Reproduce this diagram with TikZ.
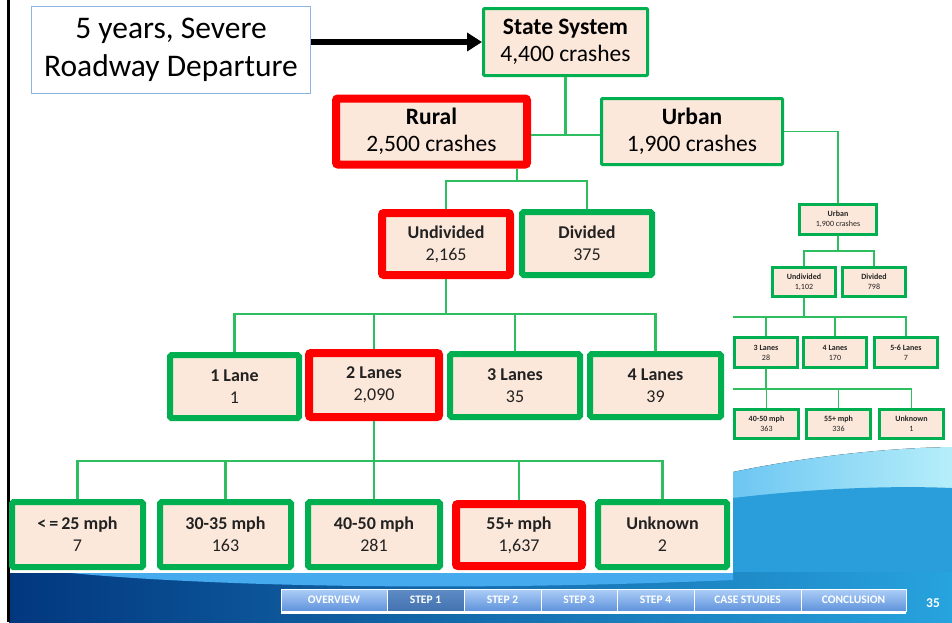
\documentclass[tikz,border=0pt]{standalone}
\usepackage{fontspec}
\setmainfont{Carlito}
\usetikzlibrary{arrows.meta}

\definecolor{boxgreen}{HTML}{00B050}
\definecolor{linegreen}{HTML}{2DBE5F}
\definecolor{hotred}{HTML}{FF0000}
\definecolor{peach}{HTML}{FCE8DA}
\definecolor{inkgray}{HTML}{222222}
\definecolor{noteblue}{HTML}{8EB4E3}
\definecolor{navy}{HTML}{02377E}
\definecolor{skyblue}{HTML}{27A3DE}
\definecolor{swoosh}{HTML}{45AAEE}
\definecolor{wavelight}{HTML}{6CC6F2}
\definecolor{wavepale}{HTML}{B6EEFA}
\definecolor{wavemid}{HTML}{2A9EDB}
\definecolor{navtop}{HTML}{ADCEF7}
\definecolor{navbot}{HTML}{5F93DC}
\definecolor{navseltop}{HTML}{5F8CC6}
\definecolor{navselbot}{HTML}{4272B0}

\tikzset{
  notebox/.style={draw=noteblue, line width=1pt, fill=white, align=center,
    inner sep=0pt, font=\fontsize{31.5}{38}\selectfont},
  topbox/.style={draw=boxgreen, line width=3pt, fill=peach, align=center,
    inner sep=0pt, rounded corners=1pt, font=\fontsize{23.5}{27}\selectfont},
  midbox/.style={draw=boxgreen, line width=6pt, fill=peach, align=center,
    inner sep=0pt, rounded corners=1.5pt, text=inkgray,
    font=\fontsize{18}{22}\selectfont},
  tinybox/.style={draw=boxgreen, line width=3pt, fill=peach, align=center,
    inner sep=0pt, text=inkgray, font=\fontsize{8}{10}\selectfont},
  hot/.style={draw=hotred, line width=8pt, rounded corners=2pt},
  conn/.style={draw=linegreen, line width=2.2pt},
  thinconn/.style={draw=linegreen, line width=1.5pt},
  navcell/.style={draw=white, line width=1pt, top color=navtop, bottom color=navbot,
    minimum height=22, inner sep=0pt, text=white,
    font=\fontsize{11.5}{13}\selectfont\bfseries},
  navsel/.style={top color=navseltop, bottom color=navselbot}
}

\begin{document}
\begin{tikzpicture}[x=1pt,y=-1pt]
\useasboundingbox (0,0) rectangle (952,622);
\fill[white] (0,0) rectangle (952,622);

% blue waves along the foot of the slide
\fill[left color=wavelight, right color=wavepale]
  (733,472) .. controls (800,458) and (880,448) .. (952,447) -- (952,622) -- (733,622) -- cycle;
\fill[wavemid]
  (733,498) .. controls (800,490) and (880,485) .. (952,488) -- (952,622) -- (733,622) -- cycle;
\fill[left color=navy, right color=skyblue] (9,572) rectangle (952,622);
\fill[swoosh] (60,572) .. controls (200,586) and (450,592) .. (733,580) -- (733,572) -- cycle;

% left rule
\draw[line width=3pt] (8.5,0) -- (8.5,622);

% caption and root
\node[notebox, minimum width=279, minimum height=87] (yrs) at (171,50)
  {5 years, Severe\\Roadway Departure};
\node[topbox, minimum width=164, minimum height=67] (state) at (565.5,42)
  {\textbf{State System}\\4,400 crashes};
\draw[line width=6pt, -{Triangle[length=15pt,width=18pt]}]
  (yrs.east |- state.west) -- (state.west);

% first split
\node[topbox, hot, minimum width=191, minimum height=66] (rural) at (431.5,131.5)
  {\textbf{Rural}\\2,500 crashes};
\node[topbox, minimum width=181, minimum height=66] (urban) at (692,131.5)
  {\textbf{Urban}\\1,900 crashes};

% rural branch
\node[midbox, hot, minimum width=128, minimum height=62] (undiv) at (446,244)
  {\textbf{Undivided}\\2,165};
\node[midbox, minimum width=130, minimum height=63] (div) at (587,243.5)
  {\textbf{Divided}\\375};

\node[midbox, minimum width=129, minimum height=63] (l1) at (234.5,386.5)
  {\textbf{1 Lane}\\1};
\node[midbox, hot, minimum width=130, minimum height=64] (l2) at (374,385)
  {\textbf{2 Lanes}\\2,090};
\node[midbox, minimum width=130, minimum height=63] (l3) at (515,385.5)
  {\textbf{3 Lanes}\\35};
\node[midbox, minimum width=131, minimum height=63] (l4) at (655.5,385.5)
  {\textbf{4 Lanes}\\39};

\fill[white] (10,455) rectangle (733,573);
\node[midbox, minimum width=131, minimum height=65] (m1) at (77.5,534.5)
  {\textbf{<\,=\,25 mph}\\7};
\node[midbox, minimum width=131, minimum height=65] (m2) at (225.5,534.5)
  {\textbf{30-35 mph}\\163};
\node[midbox, minimum width=132, minimum height=65] (m3) at (374,534.5)
  {\textbf{40-50 mph}\\281};
\node[midbox, hot, minimum width=126, minimum height=62] (m4) at (519,535)
  {\textbf{55+ mph}\\1,637};
\node[midbox, minimum width=129, minimum height=65] (m5) at (662.5,534.5)
  {\textbf{Unknown}\\2};

% urban branch, small scale
\node[tinybox, minimum width=77, minimum height=30] (surban) at (838,219.5)
  {\textbf{Urban}\\1,900 crashes};
\node[tinybox, minimum width=63, minimum height=29] (sundiv) at (804,282)
  {\textbf{Undivided}\\1,102};
\node[tinybox, minimum width=63, minimum height=29] (sdiv) at (874,282)
  {\textbf{Divided}\\798};
\node[tinybox, minimum width=63, minimum height=30] (s3) at (766,352.5)
  {\textbf{3 Lanes}\\28};
\node[tinybox, minimum width=63, minimum height=30] (s4) at (835,352.5)
  {\textbf{4 Lanes}\\170};
\node[tinybox, minimum width=63, minimum height=30] (s56) at (906,352.5)
  {\textbf{5-6 Lanes}\\7};
\node[tinybox, minimum width=64, minimum height=29] (s4050) at (766.5,424)
  {\textbf{40-50 mph}\\363};
\node[tinybox, minimum width=64, minimum height=29] (s55) at (838.5,424)
  {\textbf{55+ mph}\\336};
\node[tinybox, minimum width=64, minimum height=29] (sunk) at (911.5,424)
  {\textbf{Unknown}\\1};

% connectors
\draw[conn] (state.south) -- ++(0,58) coordinate (j0);
\draw[conn] (j0) -- (j0 -| rural.east);
\draw[conn] (j0) -- (j0 -| urban.west);
\draw[thinconn] (urban.east) -| (surban.north);

\coordinate (j1) at (517,181);
\draw[conn] (j1 |- rural.south) -- (j1);
\draw[conn] (j1) -| (undiv.north);
\draw[conn] (j1) -| (div.north);

\draw[conn] (undiv.south) -- ++(0,35) coordinate (j2);
\foreach \t in {l1,l2,l3,l4} \draw[conn] (j2) -| (\t.north);

\draw[conn] (l2.south) -- ++(0,40) coordinate (j3);
\foreach \t in {m1,m2,m3,m4,m5} \draw[conn] (j3) -| (\t.north);

\draw[thinconn] (surban.south) -- ++(0,15) coordinate (k1);
\draw[thinconn] (k1) -| (sundiv.north);
\draw[thinconn] (k1) -| (sdiv.north);

\draw[thinconn] (sundiv.south) -- ++(0,19) coordinate (k2);
\coordinate (k2end) at (733,317);
\draw[thinconn] (k2) -- (k2end);
\foreach \t in {s3,s4,s56} \draw[thinconn] (k2) -| (\t.north);

\draw[thinconn] (s3.south) -- ++(0,20) coordinate (k3);
\coordinate (k3end) at (733,389);
\draw[thinconn] (k3) -- (k3end);
\foreach \t in {s4050,s55,sunk} \draw[thinconn] (k3) -| (\t.north);

% navigation bar
\fill[white] (281,610) rectangle (906,614);
\node[navcell, minimum width=106] (nov) at (334,600) {OVERVIEW};
\node[navcell, navsel, minimum width=77] (ns1) at (425.5,600) {STEP 1};
\node[navcell, minimum width=77] (ns2) at (502.5,600) {STEP 2};
\node[navcell, minimum width=76] (ns3) at (579,600) {STEP 3};
\node[navcell, minimum width=77] (ns4) at (655.5,600) {STEP 4};
\node[navcell, minimum width=107] (ncs) at (747.5,600) {CASE STUDIES};
\node[navcell, minimum width=105] (ncl) at (853.5,600) {CONCLUSION};
\node[text=white, font=\fontsize{13.5}{15}\selectfont\bfseries] (page) at (933,603) {35};
\end{tikzpicture}
\end{document}
